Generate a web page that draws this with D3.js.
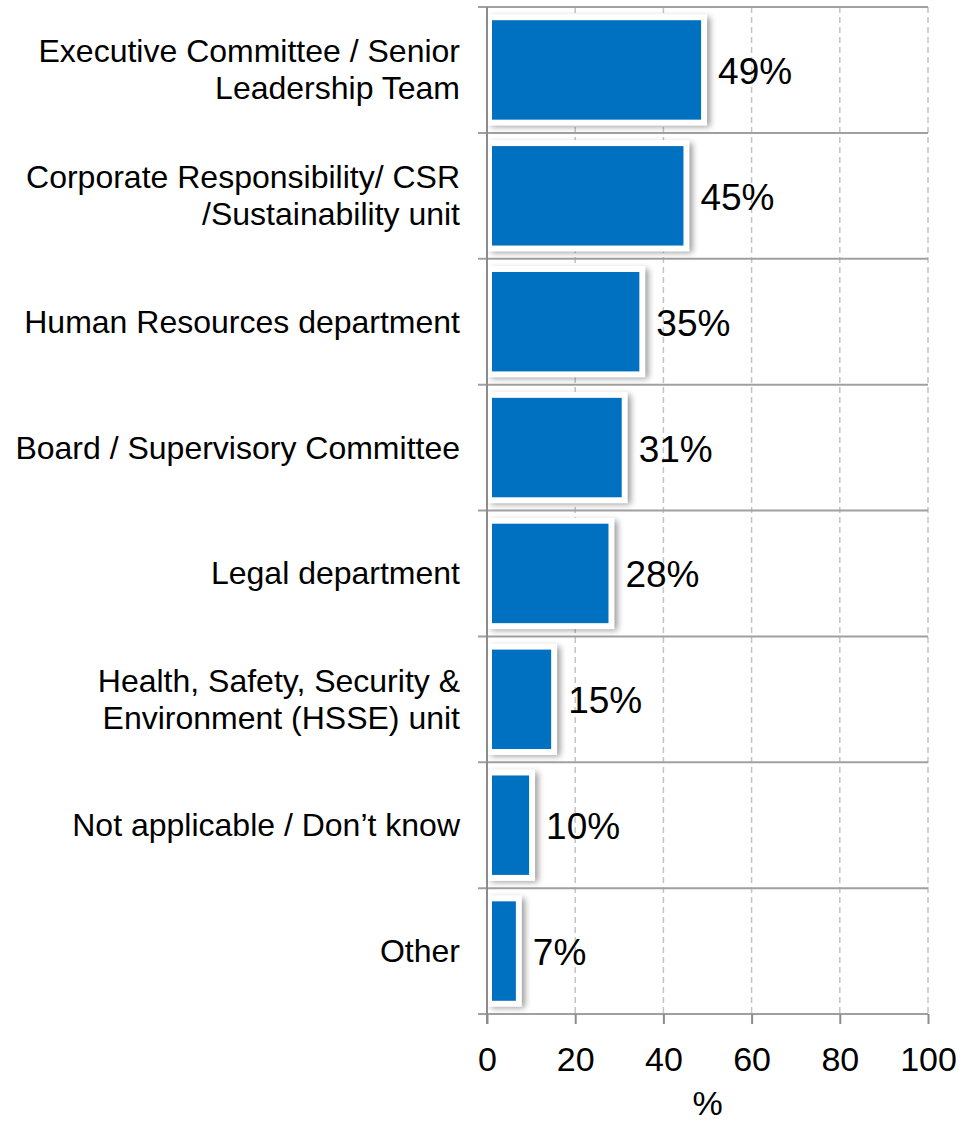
<!DOCTYPE html>
<html>
<head>
<meta charset="utf-8">
<script src="https://cdn.jsdelivr.net/npm/d3@7"></script>
<style>
  html, body { margin: 0; padding: 0; background: #fff; }
  svg { display: block; font-family: "Liberation Sans", Arial, sans-serif; }
</style>
</head>
<body>
<svg id="chart" width="963" height="1123"></svg>
<script>
// Responsible bodies, top to bottom (line breaks marked with \n)
const categories = [
  "Executive Committee / Senior\nLeadership Team",
  "Corporate Responsibility/ CSR\n/Sustainability unit",
  "Human Resources department",
  "Board / Supervisory Committee",
  "Legal department",
  "Health, Safety, Security &\nEnvironment (HSSE) unit",
  "Not applicable / Don\u2019t know",
  "Other"
];
const values = [49, 45, 35, 31, 28, 15, 10, 7];
const xTicks = [0, 20, 40, 60, 80, 100];
const xTitle = "%";

const svg = d3.select("#chart");
const plotLeft = 487, plotRight = 928, plotTop = 7, plotBottom = 1014;

const x = d3.scaleLinear().domain([0, 100]).range([plotLeft, plotRight]);
const y = d3.scaleBand().domain(categories).range([plotTop, plotBottom]).paddingInner(0).paddingOuter(0);
const inner = d3.scaleBand().domain(categories).range([plotTop, plotBottom]).paddingInner(0.21).paddingOuter(0.105);

// soft drop shadow for the bars
const defs = svg.append("defs");
defs.append("filter").attr("id", "shadow")
  .attr("x", "-20%").attr("y", "-20%").attr("width", "140%").attr("height", "140%")
  .append("feGaussianBlur").attr("stdDeviation", 3);

// dashed vertical gridlines
svg.append("g").selectAll("line")
  .data(xTicks.filter(d => d > 0))
  .join("line")
  .attr("x1", d => x(d)).attr("x2", d => x(d))
  .attr("y1", plotTop).attr("y2", plotBottom)
  .attr("stroke", "#c4c4c4").attr("stroke-width", 1.5)
  .attr("stroke-dasharray", "6,4");

// category separators
const seps = categories.map(c => y(c)).concat([plotBottom]);
svg.append("g").selectAll("line")
  .data(seps)
  .join("line")
  .attr("x1", plotLeft - 9).attr("x2", plotRight)
  .attr("y1", d => d).attr("y2", d => d)
  .attr("stroke", "#a0a0a0").attr("stroke-width", 2);

// bars: shadow, white frame, blue fill
const bars = svg.append("g").selectAll("g")
  .data(categories.map((c, i) => ({ c, v: values[i] })))
  .join("g");

bars.append("rect")
  .attr("x", d => x(0) + 4)
  .attr("y", d => inner(d.c) - 3)
  .attr("width", d => x(d.v) - x(0) + 3)
  .attr("height", inner.bandwidth() + 10)
  .attr("fill", "#000").attr("opacity", 0.4)
  .attr("filter", "url(#shadow)");

bars.append("rect")
  .attr("x", d => x(0) + 1)
  .attr("y", d => inner(d.c) - 6)
  .attr("width", d => x(d.v) - x(0) + 3)
  .attr("height", inner.bandwidth() + 12)
  .attr("fill", "#fff");

bars.append("rect")
  .attr("x", d => x(0) + 5)
  .attr("y", d => inner(d.c))
  .attr("width", d => x(d.v) - x(0) - 7)
  .attr("height", inner.bandwidth())
  .attr("fill", "#0070C0");

// value labels
bars.append("text")
  .attr("x", d => x(d.v) + 15)
  .attr("y", d => y(d.c) + y.bandwidth() / 2 + 14)
  .attr("font-size", 37)
  .attr("fill", "#000")
  .text(d => d.v + "%");

// left axis line
svg.append("line")
  .attr("x1", plotLeft).attr("x2", plotLeft)
  .attr("y1", plotTop).attr("y2", plotBottom + 10)
  .attr("stroke", "#8c8c8c").attr("stroke-width", 2);

// bottom axis
const xAxis = d3.axisBottom(x).tickValues(xTicks).tickSize(10).tickPadding(23).tickFormat(d3.format("d"));
const gx = svg.append("g").attr("transform", `translate(0,${plotBottom})`).call(xAxis);
gx.select(".domain").remove();
gx.selectAll(".tick line").attr("stroke", "#8c8c8c").attr("stroke-width", 2);
gx.selectAll(".tick text")
  .attr("font-size", 34)
  .attr("font-family", "Liberation Sans, Arial, sans-serif")
  .attr("fill", "#000");

svg.append("text")
  .attr("x", (plotLeft + plotRight) / 2)
  .attr("y", 1115)
  .attr("text-anchor", "middle")
  .attr("font-size", 34)
  .text(xTitle);

// category labels
const lineH = 37;
svg.append("g").selectAll("text")
  .data(categories)
  .join("text")
  .attr("text-anchor", "end")
  .attr("font-size", 32)
  .attr("fill", "#000")
  .each(function (c) {
    const lines = c.split("\n");
    const cy = y(c) + y.bandwidth() / 2;
    const first = cy - (lines.length - 1) * lineH / 2;
    d3.select(this).selectAll("tspan")
      .data(lines)
      .join("tspan")
      .attr("x", 460)
      .attr("y", (d, i) => first + i * lineH + 11)
      .text(d => d);
  });
</script>
</body>
</html>
